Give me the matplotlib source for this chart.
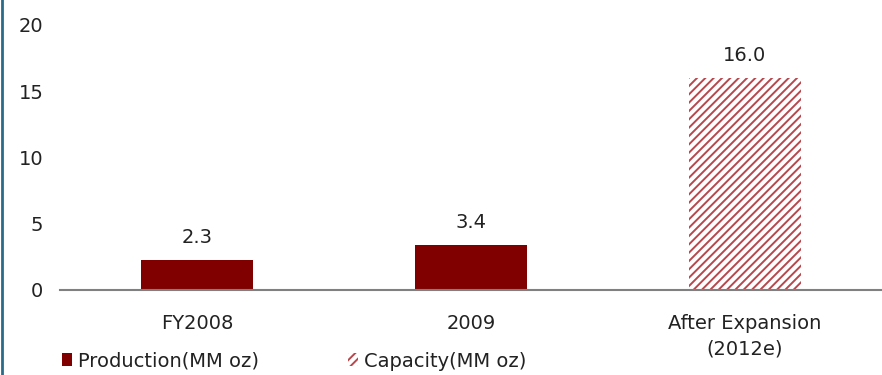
import matplotlib.pyplot as plt
from matplotlib.lines import Line2D

categories = ["FY2008", "2009", "After Expansion\n(2012e)"]
production = [2.3, 3.4]
capacity = [16.0]
yticks = [0, 5, 10, 15, 20]

maroon = "#800000"
hatch_red = "#b8474d"
text_col = "#222222"

plt.rcParams["font.family"] = "DejaVu Sans"
plt.rcParams["hatch.linewidth"] = 1.4

fig = plt.figure(figsize=(8.82, 3.75), dpi=100)
ax = fig.add_axes([0.068, 0.2267, 0.932, 0.7067])

x = list(range(len(categories)))
w = 0.41
prod_bars = ax.bar(x[:2], production, width=w, color=maroon,
                   label="Production(MM oz)", zorder=2)
cap_bars = ax.bar(x[2:], capacity, width=w, facecolor="white",
                  edgecolor=hatch_red, hatch="////", linewidth=0,
                  label="Capacity(MM oz)", zorder=2)

for bars in (prod_bars, cap_bars):
    for b in bars:
        h = b.get_height()
        ax.annotate(f"{h:.1f}", (b.get_x() + b.get_width() / 2, h),
                    xytext=(0, 9), textcoords="offset points",
                    ha="center", va="bottom", fontsize=14, color=text_col)

ax.set_xlim(-0.5, 2.5)
ax.set_ylim(0, 20)
ax.set_yticks(yticks)
ax.set_xticks(x)
ax.set_xticklabels(categories, fontsize=14, color=text_col, linespacing=1.45)
ax.tick_params(axis="y", length=0, pad=12, labelsize=14, labelcolor=text_col)
ax.tick_params(axis="x", length=0, pad=17)

for side in ("top", "right", "left"):
    ax.spines[side].set_visible(False)
ax.spines["bottom"].set_color("#808080")
ax.spines["bottom"].set_linewidth(1.5)
ax.spines["bottom"].set_zorder(3)

fig.legend(loc="center left", bbox_to_anchor=(0.07, 0.037), ncol=2,
           frameon=False, fontsize=14, handlelength=0.55, handleheight=0.65,
           handletextpad=0.3, columnspacing=4.55, borderpad=0,
           borderaxespad=0, labelcolor=text_col)

# thin frame line on the left edge
fig.add_artist(Line2D([0.002, 0.002], [0, 1], transform=fig.transFigure,
                      color="#2a6b8a", linewidth=2))

fig.savefig("out.png", dpi=100)
